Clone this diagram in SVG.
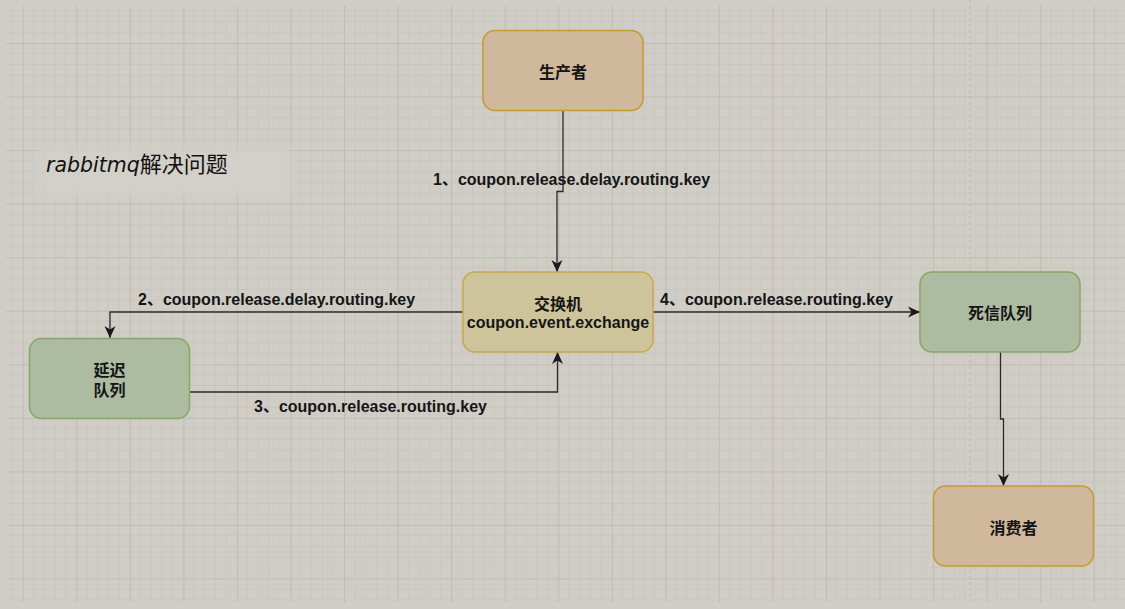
<svg xmlns="http://www.w3.org/2000/svg" width="1125" height="609" viewBox="0 0 1125 609">
  <style>
    .node rect { stroke-width: 1.5; }
    .orange rect { fill: #cfb89b; stroke: #c49a32; }
    .yellow rect { fill: #cec49c; stroke: #c8a94b; }
    .green rect { fill: #adbca1; stroke: #83a866; }
    .lbl { font-family: "Liberation Sans", Arial, "Noto Sans CJK SC", sans-serif; font-weight: bold; font-size: 16px; fill: #151515; }
    .mid { text-anchor: middle; }
    .edge { fill: none; stroke: #2a2a2a; stroke-width: 1.3; marker-end: url(#arr); }
  </style>
  <defs>
    <marker id="arr" markerUnits="userSpaceOnUse" markerWidth="13" markerHeight="13" refX="12" refY="6.5" orient="auto">
      <path d="M0,1 L12,6.5 L0,12 L3.5,6.5 Z" fill="#1a1a1a"/>
    </marker>
    <pattern id="grid" patternUnits="userSpaceOnUse" x="22.7" y="43" width="53.55" height="53.55">
      <path d="M10.71,0V53.55M21.42,0V53.55M32.13,0V53.55M42.84,0V53.55M0,10.71H53.55M0,21.42H53.55M0,32.13H53.55M0,42.84H53.55" stroke="#c9c6be" stroke-width="1" fill="none"/>
      <path d="M0.5,0V53.55M0,0.5H53.55" stroke="#bfbcb4" stroke-width="1.2" fill="none"/>
    </pattern>
    <filter id="soft" x="-20%" y="-50%" width="140%" height="200%">
      <feGaussianBlur stdDeviation="5"/>
    </filter>
  </defs>

  <rect x="0" y="0" width="1125" height="609" fill="#d0cdc6"/>
  <rect x="6" y="6" width="1119" height="596" fill="url(#grid)"/>
  <line x1="970" y1="0" x2="970" y2="602" stroke="#bebbb4" stroke-width="1.2" stroke-dasharray="3,3"/>

  <g id="title">
    <rect x="40" y="148" width="250" height="48" fill="#d2d0c9" filter="url(#soft)"/>
    <text x="46" y="172" font-family="'DejaVu Sans', 'Noto Sans CJK SC', sans-serif" font-style="italic" font-size="20.5" fill="#111">rabbitmq<tspan font-style="normal" font-size="22" font-family="'Noto Sans CJK SC', sans-serif">解决问题</tspan></text>
  </g>

  <g id="connectors">
    <path class="edge" d="M563,111 V191.5 H557 V272"/>
    <path class="edge" d="M463,312 H110 V338"/>
    <path class="edge" d="M190,392 H557.5 V352"/>
    <path class="edge" d="M653,312 H920"/>
    <path class="edge" d="M1000.5,352 V419 H1003.5 V486"/>
    <text class="lbl" x="433" y="184.5">1、coupon.release.delay.routing.key</text>
    <text class="lbl" x="138" y="304.5">2、coupon.release.delay.routing.key</text>
    <text class="lbl" x="254" y="412">3、coupon.release.routing.key</text>
    <text class="lbl" x="660" y="304.5">4、coupon.release.routing.key</text>
  </g>

  <g id="producer" class="node orange">
    <rect x="483" y="30.5" width="160" height="80" rx="12"/>
    <text class="lbl mid" x="563" y="78">生产者</text>
  </g>
  <g id="exchange" class="node yellow">
    <rect x="463" y="272" width="190" height="80" rx="12"/>
    <text class="lbl mid" x="558" y="309.5">交换机</text>
    <text class="lbl mid" x="558" y="327.5">coupon.event.exchange</text>
  </g>
  <g id="delay-queue" class="node green">
    <rect x="29.5" y="338.5" width="160" height="80" rx="12"/>
    <text class="lbl mid" x="109.5" y="376">延迟</text>
    <text class="lbl mid" x="109.5" y="396">队列</text>
  </g>
  <g id="dead-letter-queue" class="node green">
    <rect x="920" y="272" width="160" height="80" rx="12"/>
    <text class="lbl mid" x="1000" y="319">死信队列</text>
  </g>
  <g id="consumer" class="node orange">
    <rect x="933.5" y="486" width="160" height="80" rx="12"/>
    <text class="lbl mid" x="1013.5" y="534">消费者</text>
  </g>
</svg>
